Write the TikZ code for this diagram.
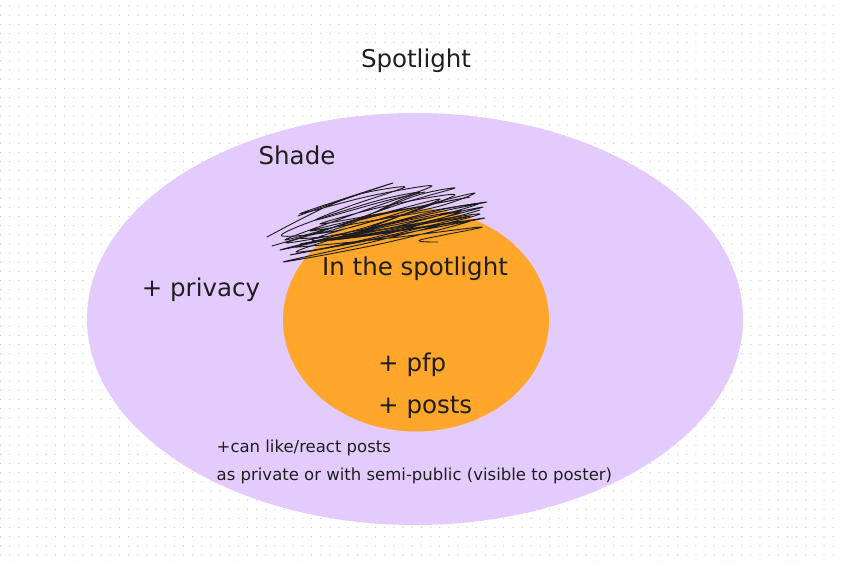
\documentclass[tikz,border=0pt]{standalone}
\usepackage{xcolor}
\usepackage{fontspec}
\setmainfont{DejaVu Sans}
\usepackage{tikz}
\usetikzlibrary{shapes.geometric,positioning}

\definecolor{lavender}{HTML}{E3CCFD}
\definecolor{amber}{HTML}{FFA62B}
\definecolor{ink}{HTML}{1E1E1E}
\definecolor{griddot}{HTML}{CFCFCF}

\begin{document}
\begin{tikzpicture}[x=1pt, y=-1pt,
    bigtxt/.style={text=ink, inner sep=0pt, font=\fontsize{24.5}{28}\selectfont},
    smalltxt/.style={text=ink, inner sep=0pt, align=left, font=\fontsize{16.5}{28}\selectfont},
    blob/.style={ellipse, inner sep=0pt, draw=none},
    scrawl/.style={ink, line width=0.9pt, line join=round, line cap=round}]
  \useasboundingbox (0,0) rectangle (841,564);
  \fill[white] (0,0) rectangle (841,564);

  % dotted canvas
  \foreach \i in {0,...,91}
    \foreach \j in {0,...,61}
      \fill[griddot] (0.5+9.15*\i, 6+9.15*\j) circle (0.65pt);

  \node (title) [bigtxt, anchor=base] at (416,68) {Spotlight};

  \node[blob, fill=lavender, minimum width=656pt, minimum height=412pt] (shade) at (415,319) {};
  \node[blob, fill=amber, minimum width=266pt, minimum height=223pt] (spot) at (416,320) {};

  % scribbled-out part
  \draw[scrawl] plot[smooth, tension=0.55] coordinates {
    (267,237) (330,205) (393,183) (340,200) (300,214) (370,196) (432,186)
    (360,212) (285,240) (380,215) (470,197) (400,210) (320,224) (390,205)
    (455,195) (370,226) (280,250) (380,228) (483,207) (390,230) (300,244)
    (390,228) (480,214) (380,240) (283,262) (380,244) (470,221) (400,230)
    (330,240) (400,222) (462,211) (380,236) (290,255) (390,236) (485,218)
    (420,228) (350,237) (400,216) (440,199) (380,214) (310,231) (400,216)
    (478,204) (390,228) (292,247) (390,238) (482,227) (420,240) (438,242)};
  \draw[scrawl] plot[smooth, tension=0.55] coordinates {
    (272,246) (350,222) (415,196) (455,188) (400,204) (320,232) (287,243)
    (360,230) (440,210) (487,202) (430,214) (350,234) (296,252) (360,242)
    (445,222) (470,216) (410,226) (330,236) (300,238) (345,226) (400,200)
    (420,192) (380,200) (310,222) (282,236) (340,230) (430,204) (475,193)
    (440,206) (370,222) (312,240) (365,236) (450,218) (480,210)};
  \draw[scrawl] plot[smooth, tension=0.5] coordinates {
    (298,216) (360,194) (405,187) (350,206) (316,220) (385,201) (425,192)};

  \node (shadelbl) [bigtxt, anchor=base] at (297,165) {Shade};
  \node (privacy) [bigtxt, anchor=base] at (201,297) {+ privacy};
  \node (spotlbl) [bigtxt, anchor=base] at (415,276) {In the spotlight};
  \node (pfp) [bigtxt, anchor=base west] at (378,371.5) {+ pfp};
  \node (posts) [bigtxt, anchor=base west] at ([yshift=-41.5pt]pfp.base west) {+ posts};

  \node (react) [smalltxt, anchor=base west] at (216.5,480)
    {+can like/react posts\\as private or with semi-public (visible to poster)};
\end{tikzpicture}
\end{document}
